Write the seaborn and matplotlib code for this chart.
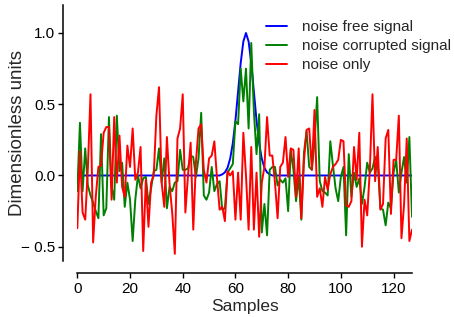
import numpy as np
import pandas as pd
import seaborn as sns
import matplotlib
matplotlib.use("Agg")
import matplotlib.pyplot as plt

samples = np.arange(128)

noise_free = [
    0.0, 0.0, 0.0, 0.0, 0.0, 0.0, 0.0, 0.0, 0.0, 0.0, 0.0, 0.0, 0.0, 0.0, 0.0, 0.0,
    0.0, 0.0, 0.0, 0.0, 0.0, 0.0, 0.0, 0.0, 0.0, 0.0, 0.0, 0.0, 0.0, 0.0, 0.0, 0.0,
    0.0, 0.0, 0.0, 0.0, 0.0, 0.0, 0.0, 0.0, 0.0, 0.0, 0.0, 0.0, 0.0, 0.0, 0.0, 0.0,
    0.0, 0.0, 0.0, 0.0, 0.0, 0.0, 0.0, 0.008, 0.022, 0.054, 0.118, 0.226, 0.386, 0.585, 0.79, 0.94,
    1.0, 0.94, 0.79, 0.585, 0.386, 0.226, 0.118, 0.054, 0.022, 0.008, 0.0, 0.0, 0.0, 0.0, 0.0, 0.0,
    0.0, 0.0, 0.0, 0.0, 0.0, 0.0, 0.0, 0.0, 0.0, 0.0, 0.0, 0.0, 0.0, 0.0, 0.0, 0.0,
    0.0, 0.0, 0.0, 0.0, 0.0, 0.0, 0.0, 0.0, 0.0, 0.0, 0.0, 0.0, 0.0, 0.0, 0.0, 0.0,
    0.0, 0.0, 0.0, 0.0, 0.0, 0.0, 0.0, 0.0, 0.0, 0.0, 0.0, 0.0, 0.0, 0.0, 0.0, 0.0,
]

noise_corrupted = [
    -0.11, 0.37, -0.11, 0.19, -0.07, -0.14, -0.19, -0.25, -0.30, 0.29, -0.28, -0.23, 0.41, -0.08, -0.17, 0.42,
    0.03, 0.09, -0.22, -0.05, -0.17, -0.46, -0.17, 0.00, -0.09, -0.02, -0.01, -0.20, -0.09, 0.03, 0.04, 0.19,
    -0.05, 0.12, -0.23, -0.08, -0.11, -0.05, -0.04, 0.18, 0.04, 0.04, 0.05, 0.14, 0.13, -0.01, 0.12, 0.44,
    -0.14, -0.17, -0.12, 0.06, -0.11, -0.06, -0.04, -0.24, -0.23, 0.02, 0.05, 0.08, 0.38, 0.36, 0.75, 0.52,
    0.75, 0.33, 0.93, 0.45, 0.15, 0.43, -0.40, -0.20, -0.42, 0.04, 0.06, 0.06, -0.07, -0.03, -0.05, -0.02,
    -0.25, 0.18, 0.04, -0.18, -0.01, -0.31, 0.16, 0.31, 0.06, 0.04, 0.23, 0.55, -0.04, -0.11, -0.12, -0.14,
    0.24, 0.07, -0.09, -0.18, -0.01, 0.06, -0.42, 0.15, -0.15, 0.02, -0.08, -0.02, -0.20, -0.08, 0.09, 0.02,
    0.05, 0.13, 0.09, -0.23, -0.24, -0.35, -0.19, -0.23, 0.02, 0.11, -0.12, 0.02, 0.13, -0.05, 0.27, -0.29,
]

noise_only = [
    -0.37, 0.17, -0.26, -0.31, 0.05, 0.57, -0.47, -0.15, 0.06, 0.07, 0.30, 0.34, 0.34, -0.17, 0.41, -0.05,
    0.28, -0.08, -0.15, 0.21, 0.06, 0.33, -0.03, 0.02, 0.20, -0.53, -0.03, -0.36, -0.05, 0.00, 0.42, 0.62,
    -0.05, -0.22, 0.27, -0.06, -0.26, -0.55, 0.26, 0.33, 0.57, -0.26, 0.00, 0.23, -0.38, 0.09, 0.33, 0.36,
    0.04, -0.05, 0.12, 0.14, 0.24, -0.02, -0.24, -0.22, -0.32, 0.03, 0.00, 0.03, -0.31, 0.02, -0.31, 0.30,
    0.00, -0.38, 0.20, -0.38, 0.02, -0.43, -0.05, 0.06, 0.41, 0.14, 0.14, -0.05, -0.30, 0.06, 0.09, 0.27,
    -0.01, 0.19, 0.18, -0.15, 0.19, -0.30, 0.10, 0.32, 0.33, 0.04, 0.46, -0.15, -0.09, -0.22, -0.01, -0.10,
    0.01, 0.06, 0.08, 0.11, 0.25, 0.24, -0.21, -0.22, -0.18, 0.20, -0.03, 0.30, -0.50, -0.17, -0.28, 0.04,
    0.57, -0.04, 0.20, -0.24, -0.20, 0.26, 0.32, -0.27, 0.11, 0.11, 0.42, -0.44, -0.20, 0.26, -0.46, -0.38,
]

series_names = ["noise free signal", "noise corrupted signal", "noise only"]
series_colors = ["#0000ff", "#008000", "#ff0000"]
yticks = [-0.5, 0.0, 0.5, 1.0]
ytick_labels = ["\u2212 0.5", "0.0", "0.5", "1.0"]
xticks = [0, 20, 40, 60, 80, 100, 120]

df = pd.concat([
    pd.DataFrame({"Samples": samples, "value": vals, "series": name})
    for name, vals in zip(series_names, [noise_free, noise_corrupted, noise_only])
], ignore_index=True)

sns.set_theme(style="ticks")
plt.rcParams["font.family"] = ["Liberation Sans", "DejaVu Sans"]

fig = plt.figure(figsize=(4.54, 3.17), dpi=100)
ax = fig.add_axes([0.1703, 0.1767, 0.7372, 0.8091])

sns.lineplot(data=df, x="Samples", y="value", hue="series", hue_order=series_names,
             palette=dict(zip(series_names, series_colors)), linewidth=1.4,
             errorbar=None, ax=ax)

ax.set_xlim(0, 127)
ax.set_ylim(-0.6, 1.2)
ax.set_xticks(xticks)
ax.set_yticks(yticks)
ax.set_yticklabels(ytick_labels)
ax.tick_params(axis="both", labelsize=11, length=3.5, width=1.0, direction="out",
               colors="black", pad=2.5)
ax.set_xlabel("Samples", fontsize=12.5, labelpad=2)
ax.set_ylabel("Dimensionless units", fontsize=13.5)
ax.yaxis.set_label_coords(-0.153, 0.5)

sns.despine(ax=ax, offset={"left": 10, "bottom": 9})
for s in ["left", "bottom"]:
    ax.spines[s].set_linewidth(1.1)
    ax.spines[s].set_color("black")

leg = ax.legend(frameon=False, loc="upper left", bbox_to_anchor=(266 / 454, 1 - 20 / 317),
                bbox_transform=fig.transFigure, borderpad=0, borderaxespad=0,
                handlelength=1.35, handletextpad=0.98, labelspacing=0.33, fontsize=11)
for line in leg.get_lines():
    line.set_linewidth(1.4)

fig.savefig("out.png", dpi=100)
